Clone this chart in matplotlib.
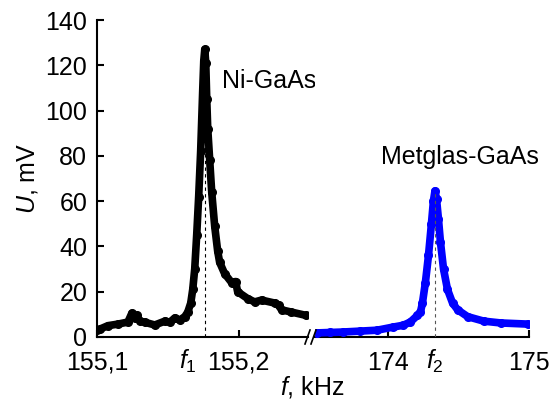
import matplotlib.pyplot as plt

plt.rcParams['font.family'] = ['Liberation Sans', 'DejaVu Sans']
plt.rcParams['mathtext.fontset'] = 'custom'
plt.rcParams['mathtext.rm'] = 'Liberation Sans'
plt.rcParams['mathtext.it'] = 'Liberation Sans:italic'

# Ni-GaAs resonance (kHz, mV)
ni_f = [155.1000, 155.1021, 155.1077, 155.1148, 155.1218, 155.1246, 155.1268, 155.1282,
        155.1303, 155.1338, 155.1408, 155.1479, 155.1514, 155.1549, 155.1585, 155.1620,
        155.1641, 155.1662, 155.1676, 155.1690, 155.1704, 155.1718, 155.1732, 155.1746,
        155.1754, 155.1761, 155.1768, 155.1775, 155.1782, 155.1796, 155.1810, 155.1831,
        155.1852, 155.1866, 155.1901, 155.1951, 155.1979, 155.1993, 155.2063, 155.2113,
        155.2162, 155.2254, 155.2282, 155.2303, 155.2373, 155.2479]
ni_u = [3.0, 3.5, 5.0, 5.7, 6.6, 10.5, 8.5, 9.5,
        7.0, 6.5, 5.3, 7.0, 6.5, 8.4, 7.5, 9.0,
        11.0, 15.0, 21.0, 30.0, 45.0, 62.0, 82.0, 108.0,
        122.0, 127.0, 121.0, 105.0, 92.0, 78.0, 64.0, 49.0,
        38.0, 33.0, 28.0, 24.0, 24.5, 20.0, 17.0, 15.5,
        16.3, 15.0, 14.0, 12.0, 11.0, 9.5]

# Metglas-GaAs resonance (kHz, mV)
mg_f = [173.493, 173.586, 173.679, 173.800, 173.921, 174.036, 174.107, 174.157,
        174.207, 174.229, 174.243, 174.264, 174.286, 174.307, 174.321, 174.332,
        174.343, 174.357, 174.371, 174.393, 174.421, 174.457, 174.493, 174.564,
        174.679, 174.800, 174.990]
mg_u = [1.8, 2.0, 2.2, 2.6, 3.0, 4.4, 5.2, 6.6,
        9.5, 11.0, 15.0, 24.0, 36.0, 50.0, 60.0, 64.5,
        61.0, 52.0, 42.0, 30.0, 21.0, 15.0, 12.0, 9.0,
        7.0, 6.2, 5.7]

f1 = 155.1761
f2 = 174.332
u1 = 127.0
u2 = 64.5

fig = plt.figure(figsize=(5.53, 4.07), dpi=100)
bottom = 1 - 337 / 407
height = (337 - 20) / 407
ax1 = fig.add_axes([97 / 553, bottom, (308 - 97) / 553, height])
ax2 = fig.add_axes([315 / 553, bottom, (529 - 315) / 553, height])

ax1.plot(ni_f, ni_u, '-o', color='black', lw=5.5, ms=5.5, solid_capstyle='round',
         solid_joinstyle='round', zorder=3)
ax2.plot(mg_f, mg_u, '-o', color='#0000ff', lw=5.5, ms=5.5, solid_capstyle='round',
         solid_joinstyle='round', zorder=3)

ax1.plot([f1, f1], [0, u1], ls='--', color='black', lw=0.8, dashes=(3, 3), zorder=4)
ax2.plot([f2, f2], [0, u2], ls='--', color='#555555', lw=0.8, dashes=(3, 3), zorder=4)

ax1.set_xlim(155.1, 155.249)
ax2.set_xlim(173.48, 175.0)
for ax in (ax1, ax2):
    ax.set_ylim(0, 140)
    ax.spines['top'].set_visible(False)
    ax.spines['right'].set_visible(False)
    ax.spines['bottom'].set_linewidth(1.5)
    ax.spines['left'].set_linewidth(1.5)
    ax.tick_params(direction='in', length=5, width=1.5, labelsize=18, pad=7)
    ax.tick_params(axis='x', pad=10)
ax2.spines['left'].set_visible(False)
ax2.tick_params(axis='y', left=False, labelleft=False)

ax1.set_yticks(range(0, 141, 20))
ax1.set_xticks([155.1, 155.2])
ax1.set_xticklabels(['155,1', '155,2'])
ax2.set_xticks([174, 175])
ax2.set_xticklabels(['174', '175'])

ax1.text(f1 - 0.0055, -0.035, '$f_1$', transform=ax1.get_xaxis_transform(),
         ha='right', va='top', fontsize=18)
ax2.text(f2, -0.035, '$f_2$', transform=ax2.get_xaxis_transform(),
         ha='center', va='top', fontsize=18)

ax1.text(155.1885, 113, 'Ni-GaAs', fontsize=18, va='center', ha='left')
ax2.text(173.95, 79.5, 'Metglas-GaAs', fontsize=18, va='center', ha='left')

ax1.set_ylabel('$U$, mV', fontsize=18, labelpad=4)
fig.text(312 / 553, 1 - 387 / 407, '$f$, kHz', fontsize=18, ha='center', va='center')

# axis break marks
for dx in (0, 6):
    x0 = (305 + dx) / 553
    fig.add_artist(plt.Line2D([x0, x0 + 5 / 553], [1 - 344 / 407, 1 - 330 / 407],
                              color='black', lw=1.2))

fig.savefig('out.png', dpi=100)
